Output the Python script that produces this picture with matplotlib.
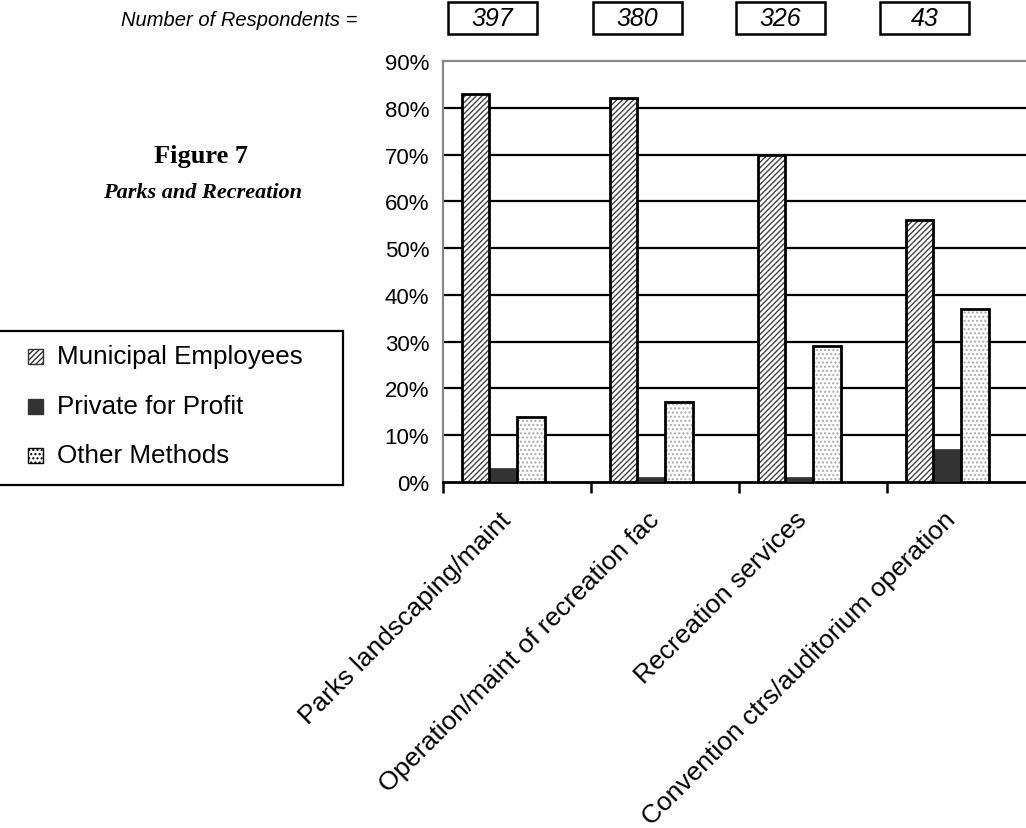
import matplotlib
matplotlib.use("Agg")
import matplotlib.pyplot as plt
import matplotlib.transforms as mtransforms
from matplotlib.patches import Rectangle
import numpy as np

plt.rcParams['hatch.linewidth'] = 1.0

categories = ["Parks landscaping/maint", "Operation/maint of recreation fac",
              "Recreation services", "Convention ctrs/auditorium operation"]
respondents = [397, 380, 326, 43]
series_names = ["Municipal Employees", "Private for Profit", "Other Methods"]
municipal = [83, 82, 70, 56]
private = [3, 1, 1, 7]
other = [14, 17, 29, 37]
y_ticks = [0, 10, 20, 30, 40, 50, 60, 70, 80, 90]

W, H = 1026, 829
fig = plt.figure(figsize=(W / 100, H / 100), dpi=100)


def fx(px):
    return px / W


def fy(py):
    return 1 - py / H


ax_left, ax_right, ax_bottom, ax_top = 443, 1035, 483, 62
ax = fig.add_axes([fx(ax_left), fy(ax_bottom),
                   (ax_right - ax_left) / W, (ax_bottom - ax_top) / H])

x = np.arange(len(categories))
w = 0.186
hatches = ["//////", None, "...."]
hatch_colors = ["#444444", None, "#aaaaaa"]
for k, vals in enumerate([municipal, private, other]):
    offset = (k - 1.5) * w
    if hatches[k]:
        ax.bar(x + offset, vals, w, facecolor="white", edgecolor=hatch_colors[k],
               hatch=hatches[k], linewidth=0, zorder=3)
        ax.bar(x + offset, vals, w, facecolor="none", edgecolor="black",
               linewidth=2.0, zorder=4)
    else:
        ax.bar(x + offset, vals, w, facecolor="#333333",
               edgecolor="#333333", linewidth=0.5, zorder=3)

ax.set_xlim(-0.5, len(categories) - 0.5)
ax.set_ylim(0, 90)
ax.set_yticks(y_ticks)
ax.set_yticklabels([f"{v}%" for v in y_ticks], fontsize=16, fontfamily="Liberation Sans")
ax.tick_params(axis="y", length=0, pad=10)
for v in y_ticks[1:-1]:
    ax.axhline(v, color="black", linewidth=1.6, zorder=1)

ax.set_xticks(np.arange(len(categories) + 1) - 0.5)
ax.set_xticklabels([])
ax.tick_params(axis="x", which="major", length=8, width=1.8, color="black", direction="out")
ax.set_xticks(x, minor=True)
ax.set_xticklabels(categories, minor=True, rotation=45, ha="right", va="top",
                   rotation_mode="anchor", fontsize=19, fontfamily="Liberation Sans")
ax.tick_params(axis="x", which="minor", length=0, pad=18)
shift = mtransforms.ScaledTranslation(-18 / 100, 0, fig.dpi_scale_trans)
for lbl in ax.get_xticklabels(minor=True):
    lbl.set_transform(lbl.get_transform() + shift)

for side in ["left", "top"]:
    ax.spines[side].set_color("#888888")
    ax.spines[side].set_linewidth(1.6)
ax.spines["right"].set_visible(False)
ax.spines["bottom"].set_color("black")
ax.spines["bottom"].set_linewidth(2.0)

# Title block
fig.text(fx(201), fy(157), "Figure 7", ha="center", va="center",
         fontsize=19, fontweight="bold", fontfamily="Liberation Serif")
fig.text(fx(203), fy(193), "Parks and Recreation", ha="center", va="center",
         fontsize=16, fontweight="bold", fontstyle="italic", fontfamily="Liberation Serif")

# Respondent counts
fig.text(fx(357), fy(20), "Number of Respondents =", ha="right", va="center",
         fontsize=14.5, fontstyle="italic", fontfamily="Liberation Sans")
box_lefts = [448, 593, 736, 880]
box_w, box_h = 89, 32
for bx, n in zip(box_lefts, respondents):
    fig.add_artist(Rectangle((fx(bx), fy(35)), box_w / W, box_h / H,
                             transform=fig.transFigure, facecolor="white",
                             edgecolor="black", linewidth=1.8))
    fig.text(fx(bx + box_w / 2), fy(19), str(n), ha="center", va="center",
             fontsize=18, fontstyle="italic", fontfamily="Liberation Sans")

# Legend box with swatches
fig.add_artist(Rectangle((fx(-2), fy(486)), 345 / W, 154 / H, transform=fig.transFigure,
                         facecolor="white", edgecolor="black", linewidth=1.6))
legend_rows = [357, 407, 456]
swatches = [dict(facecolor="white", edgecolor="#333333", hatch="//////"),
            dict(facecolor="#333333", edgecolor="#333333"),
            dict(facecolor="white", edgecolor="black", hatch="....")]
sw = 15
for name, row, st in zip(series_names, legend_rows, swatches):
    fig.add_artist(Rectangle((fx(28), fy(row + sw / 2)), sw / W, sw / H,
                             transform=fig.transFigure, linewidth=1.0, **st))
    fig.text(fx(57), fy(row), name, ha="left", va="center",
             fontsize=18.7, fontfamily="Liberation Sans")

fig.savefig("out.png", dpi=100)
